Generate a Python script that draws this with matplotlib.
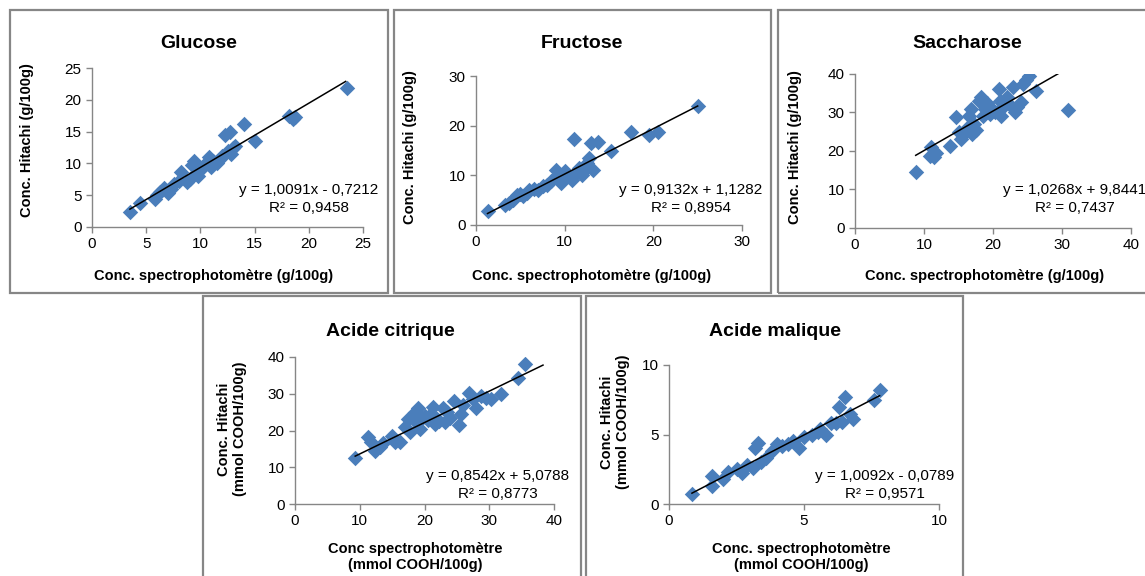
import matplotlib
matplotlib.use("Agg")
import matplotlib.pyplot as plt
from matplotlib.patches import Rectangle

plt.rcParams['font.family'] = ['Liberation Sans', 'DejaVu Sans']

BLUE = '#4A7EBB'
GRAY = '#868686'

# data
glucose_x = [3.5, 4.4, 5.8, 6.0, 6.3, 6.6, 7.0, 7.3, 7.6, 8.0, 8.2, 8.8, 9.0, 9.2, 9.4, 9.6, 9.8,
             10.0, 10.2, 10.5, 10.8, 11.0, 11.2, 11.5, 11.8, 12.0, 12.3, 12.5, 12.7, 12.8, 13.0,
             13.2, 14.0, 15.0, 18.2, 18.5, 18.7, 23.5]
glucose_y = [2.3, 3.7, 4.4, 5.0, 5.5, 6.2, 5.3, 6.0, 6.7, 7.2, 8.7, 7.0, 7.5, 9.8, 10.3, 8.5, 8.0,
             9.0, 9.5, 10.0, 11.0, 9.5, 10.3, 10.0, 10.7, 11.2, 14.4, 12.0, 15.0, 11.5, 12.5,
             12.8, 16.2, 13.5, 17.5, 17.0, 17.3, 21.8]

fructose_x = [1.3, 3.3, 3.7, 4.2, 4.6, 5.0, 5.3, 5.7, 6.0, 6.5, 7.0, 7.5, 8.0, 8.5, 9.0, 9.3, 9.6,
              10.0, 10.4, 10.8, 11.0, 11.3, 11.6, 12.0, 12.3, 12.5, 12.8, 13.0, 13.2, 13.8, 15.2,
              17.5, 19.5, 20.5, 25.0]
fructose_y = [2.8, 4.0, 4.4, 5.0, 6.0, 6.3, 5.8, 6.5, 7.0, 7.2, 7.0, 7.8, 8.0, 8.8, 11.0, 10.0, 8.5,
              10.8, 9.8, 9.0, 17.3, 10.5, 11.5, 10.0, 11.0, 12.5, 13.5, 16.5, 11.0, 16.8, 15.0,
              18.7, 18.2, 18.8, 24.0]

saccharose_x = [8.8, 10.8, 11.0, 11.5, 11.8, 13.8, 14.7, 15.0, 15.3, 15.8, 16.2, 16.5, 16.8, 17.0,
                17.3, 17.6, 18.0, 18.2, 18.5, 18.8, 19.2, 19.5, 19.8, 20.3, 20.8, 21.0, 21.2, 21.5,
                22.0, 22.5, 22.9, 23.2, 23.5, 24.0, 24.4, 24.8, 25.2, 26.3, 30.8]
saccharose_y = [14.6, 18.8, 21.0, 18.5, 19.5, 21.3, 28.8, 25.0, 23.0, 24.5, 26.0, 29.0, 30.8, 24.5,
                27.0, 25.5, 33.0, 34.0, 29.0, 31.0, 32.5, 29.5, 31.0, 30.0, 36.0, 33.0, 29.0, 31.5,
                34.0, 32.0, 36.5, 30.2, 31.5, 32.8, 37.5, 38.5, 39.6, 35.5, 30.6]

citrique_x = [9.3, 11.3, 11.8, 12.3, 13.2, 13.6, 15.0, 15.5, 16.2, 17.0, 17.5, 17.8, 18.2, 18.5,
              18.8, 19.0, 19.3, 19.6, 20.0, 20.5, 21.0, 21.3, 21.6, 22.0, 22.3, 22.8, 23.2, 23.5,
              24.0, 24.6, 25.3, 25.6, 26.0, 26.9, 27.5, 28.0, 28.8, 29.5, 30.3, 31.8, 34.5, 35.5]
citrique_y = [12.5, 18.3, 17.0, 14.5, 15.5, 16.5, 18.5, 17.0, 17.0, 21.0, 23.0, 19.5, 24.0, 25.0,
              22.0, 26.0, 20.5, 23.5, 24.0, 22.8, 24.5, 26.5, 21.8, 23.0, 22.5, 26.0, 22.2, 25.0,
              23.5, 28.0, 21.5, 24.5, 27.0, 30.2, 28.5, 26.0, 29.5, 28.8, 28.7, 29.8, 34.3, 38.0]

malique_x = [0.85, 1.6, 1.6, 2.0, 2.2, 2.5, 2.7, 2.9, 3.1, 3.2, 3.3, 3.4, 3.6, 3.8, 4.0, 4.2, 4.4,
             4.6, 4.8, 5.0, 5.3, 5.5, 5.6, 5.8, 6.0, 6.2, 6.3, 6.4, 6.5, 6.7, 6.8, 7.6, 7.8]
malique_y = [0.7, 1.3, 2.0, 1.8, 2.3, 2.5, 2.2, 2.8, 2.6, 4.0, 4.4, 3.0, 3.3, 3.8, 4.3, 4.2, 4.3,
             4.5, 4.0, 4.8, 5.0, 5.2, 5.4, 5.0, 5.8, 5.8, 7.0, 5.9, 7.7, 6.5, 6.1, 7.5, 8.2]

# trend lines: slope, intercept and the x range they cover
trends = {
    'glucose': (1.0091, -0.7212, [3.5, 23.4]),
    'fructose': (0.9132, 1.1282, [1.3, 25.0]),
    'saccharose': (1.0268, 9.8441, [8.8, 30.8]),
    'citrique': (0.8542, 5.0788, [9.3, 38.3]),
    'malique': (1.0092, -0.0789, [0.85, 7.8]),
}
equations = {
    'glucose': 'y = 1,0091x - 0,7212\nR² = 0,9458',
    'fructose': 'y = 0,9132x + 1,1282\nR² = 0,8954',
    'saccharose': 'y = 1,0268x + 9,8441\nR² = 0,7437',
    'citrique': 'y = 0,8542x + 5,0788\nR² = 0,8773',
    'malique': 'y = 1,0092x - 0,0789\nR² = 0,9571',
}

W, H = 1145, 576
fig = plt.figure(figsize=(W / 100, H / 100), dpi=100)


def px(x, y):
    return x / W, 1 - y / H


def box(x0, y0, x1, y1):
    fig.add_artist(Rectangle((x0 / W, 1 - y1 / H), (x1 - x0) / W, (y1 - y0) / H,
                             transform=fig.transFigure, fill=False, ec=GRAY, lw=1.6))


def panel(key, xs, ys, rect, xmax, ymax, step, title, tpos, ylab, ypos, xlab, xpos, epos):
    x0, y0, x1, y1 = rect
    ax = fig.add_axes([x0 / W, 1 - y0 / H, (x1 - x0) / W, (y0 - y1) / H])
    ax.scatter(xs, ys, marker='D', s=62, color=BLUE, zorder=2, linewidths=0)
    a, b, xr = trends[key]
    ax.plot(xr, [a * v + b for v in xr], color='black', lw=1.1, zorder=3)
    ax.set_xlim(0, xmax)
    ax.set_ylim(0, ymax)
    ax.set_xticks(range(0, xmax + 1, step[0]))
    ax.set_yticks(range(0, ymax + 1, step[1]))
    for s in ['top', 'right']:
        ax.spines[s].set_visible(False)
    for s in ['left', 'bottom']:
        ax.spines[s].set_color(GRAY)
        ax.spines[s].set_linewidth(1.0)
    ax.tick_params(colors=GRAY, labelcolor='black', labelsize=11, length=4, width=1.0)
    ax.patch.set_alpha(0)
    fig.text(*px(*tpos), title, ha='center', va='center', fontsize=14, fontweight='bold')
    fig.text(*px(*ypos), ylab, ha='center', va='center', rotation=90, fontsize=10.5,
             fontweight='bold', linespacing=1.1)
    fig.text(*px(*xpos), xlab, ha='center', va='center', fontsize=10.5, fontweight='bold',
             linespacing=1.2)
    fig.text(*px(*epos), equations[key], ha='center', va='center', fontsize=11,
             linespacing=1.3)


box(10, 10, 388, 293)
box(394, 10, 771, 293)
box(778, 10, 1160, 293)
box(203, 296, 581, 590)
box(586, 296, 963, 590)

xl_g = 'Conc. spectrophotomètre (g/100g)'
yl_g = 'Conc. Hitachi (g/100g)'
yl_m = 'Conc. Hitachi\n(mmol COOH/100g)'

panel('glucose', glucose_x, glucose_y, (92, 227, 363, 68), 25, 25, (5, 5),
      'Glucose', (199, 44), yl_g, (27, 140), xl_g, (214, 276), (309, 199))
panel('fructose', fructose_x, fructose_y, (476, 225, 742, 76), 30, 30, (10, 10),
      'Fructose', (582, 44), yl_g, (410, 147), xl_g, (592, 276), (691, 199))
panel('saccharose', saccharose_x, saccharose_y, (855, 228, 1131, 74), 40, 40, (10, 10),
      'Saccharose', (967, 44), yl_g, (795, 147), xl_g, (985, 276), (1075, 199))
panel('citrique', citrique_x, citrique_y, (295, 504, 554, 357), 40, 40, (10, 10),
      'Acide citrique', (390, 332), yl_m, (232, 429), 'Conc spectrophotomètre\n(mmol COOH/100g)',
      (415, 557), (498, 485))
panel('malique', malique_x, malique_y, (669, 504, 939, 365), 10, 10, (5, 5),
      'Acide malique', (775, 332), yl_m, (615, 422), 'Conc. spectrophotomètre\n(mmol COOH/100g)',
      (801, 557), (885, 485))

fig.savefig('out.png', dpi=100)
